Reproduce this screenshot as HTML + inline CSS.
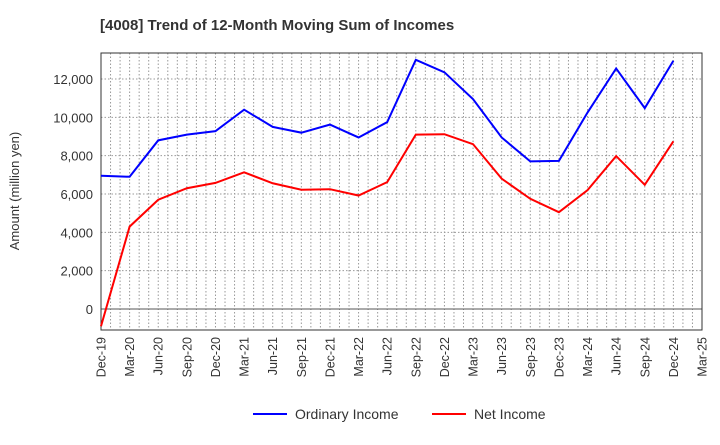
<!DOCTYPE html>
<html><head><meta charset="utf-8"><style>
body{margin:0;background:#fff;font-family:"Liberation Sans",sans-serif;}
</style></head><body>
<svg width="720" height="440" xmlns="http://www.w3.org/2000/svg" font-family="Liberation Sans, sans-serif">
<text x="100" y="30" font-size="15" font-weight="bold" fill="#333">[4008]  Trend of 12-Month Moving Sum of Incomes</text>
<text transform="translate(19,191) rotate(-90)" text-anchor="middle" font-size="13" fill="#333">Amount (million yen)</text>
<g id="grid"></g><g id="axes"></g><g id="series"></g>
<g>
<line x1="253" y1="414" x2="287" y2="414" stroke="#0000ff" stroke-width="2"/>
<text x="295" y="419" font-size="14" fill="#333">Ordinary Income</text>
<line x1="432" y1="414" x2="466" y2="414" stroke="#ff0000" stroke-width="2"/>
<text x="474" y="419" font-size="14" fill="#333">Net Income</text>
</g>
</svg>
<script>
const categories=["Dec-19","Mar-20","Jun-20","Sep-20","Dec-20","Mar-21","Jun-21","Sep-21","Dec-21","Mar-22","Jun-22","Sep-22","Dec-22","Mar-23","Jun-23","Sep-23","Dec-23","Mar-24","Jun-24","Sep-24","Dec-24","Mar-25"];
const ordinaryIncome=[6950,6900,8800,9100,9280,10400,9500,9200,9620,8950,9750,13000,12350,10950,8950,7700,7730,10250,12550,10480,12950];
const netIncome=[-900,4300,5700,6300,6580,7130,6560,6220,6250,5920,6620,9100,9120,8600,6800,5750,5050,6200,7980,6480,8750];
const yTicks=[0,2000,4000,6000,8000,10000,12000];
const yTickLabels=["0","2,000","4,000","6,000","8,000","10,000","12,000"];
const NS="http://www.w3.org/2000/svg";
const L=101,R=702,T=53,B=330,Y0=309,Y12=79;
const xs=i=>L+(R-L)*i/(categories.length-1);
const ys=v=>Y0+(v/12000)*(Y12-Y0);
function mk(t,a,p){const e=document.createElementNS(NS,t);for(const k in a)e.setAttribute(k,a[k]);p.appendChild(e);return e;}
const grid=document.getElementById('grid'),axes=document.getElementById('axes'),ser=document.getElementById('series');
const nm=(categories.length-1)*3;
for(let m=1;m<nm;m++){const x=L+(R-L)*m/nm;const g=mk('line',{x1:x,y1:T,x2:x,y2:B,stroke:'#999','stroke-dasharray':'1.5,2','stroke-width':1},grid);

}
yTicks.forEach((v,i)=>{const y=ys(v);const g=mk('line',{x1:L,y1:y,x2:R,y2:y,stroke:v===0?'#555':'#999','stroke-dasharray':v===0?'none':'1.5,2','stroke-width':1},grid);


const t=mk('text',{x:L-8,y:y+5,'text-anchor':'end','font-size':13,fill:'#333'},axes);t.textContent=yTickLabels[i];

});
const fr=mk('rect',{x:L,y:T,width:R-L,height:B-T,fill:'none',stroke:'#333','stroke-width':1},axes);


categories.forEach((c,i)=>{const x=xs(i);const t=mk('text',{transform:`translate(${x+4.5},337) rotate(-90)`,'text-anchor':'end','font-size':12.5,fill:'#333'},axes);t.textContent=c;

});
function line(d,col,name){const p=mk('polyline',{points:d.map((v,i)=>xs(i)+','+ys(v)).join(' '),fill:'none',stroke:col,'stroke-width':2},ser);

}
line(ordinaryIncome,'#0000ff','ordinary-income-line');
line(netIncome,'#ff0000','net-income-line');
</script>
</body></html>
